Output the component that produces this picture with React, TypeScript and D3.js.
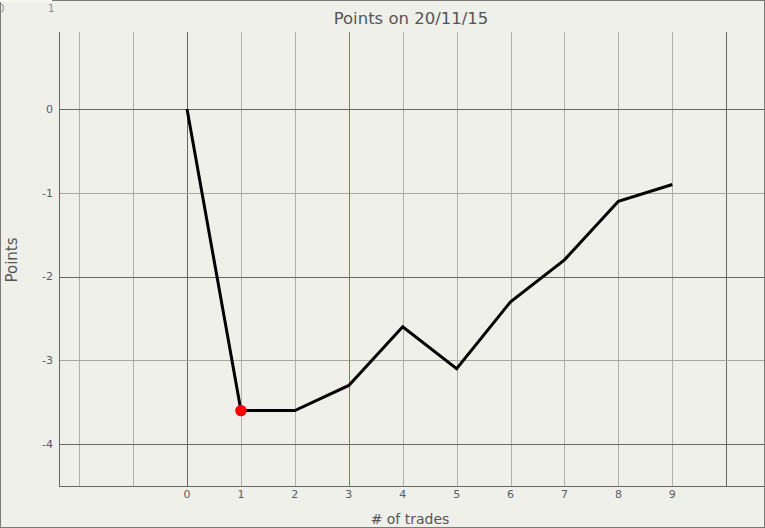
import * as d3 from 'd3';

const trades = [0, 1, 2, 3, 4, 5, 6, 7, 8, 9];
const points = [0, -3.6, -3.6, -3.3, -2.6, -3.1, -2.3, -1.8, -1.1, -0.9];
const xGrid = [-2, -1, 0, 1, 2, 3, 4, 5, 6, 7, 8, 9, 10];
const xMajor = [0, 10];
const xLabels = [0, 1, 2, 3, 4, 5, 6, 7, 8, 9];
const yTicks = [0, -1, -2, -3, -4];
const yMajor = [0, -2, -4];
const markerIndex = 1;
const markerLine = 3;

const W = 765;
const H = 528;
const margin = { top: 32, right: 1, bottom: 42, left: 59 };
const font = '"DejaVu Sans", Verdana, sans-serif';

export default function App() {
    const innerW = W - margin.left - margin.right;
    const innerH = H - margin.top - margin.bottom;

    const x = d3.scaleLinear().domain([-2.374, 10.7]).range([0, innerW]);
    const y = d3.scaleLinear().domain([-4.5, 0.92]).range([innerH, 0]);

    const line = d3
        .line<number>()
        .x((_, i) => x(trades[i]))
        .y((d) => y(d));

    const px = (v: number) => Math.round(v) + 0.5;

    return (
        <svg
            width={W}
            height={H}
            style={{ position: 'absolute', left: 0, top: 0, display: 'block' }}
            fontFamily={font}
        >
            <rect x={0} y={0} width={W} height={H} fill="#f0f0ea" />
            <rect x={0.5} y={0.5} width={W - 1} height={H - 1} fill="none" stroke="#7a7a7a" />
            <rect x={0} y={0} width={52} height={2} fill="#f7f7f3" />
            <text x={-2} y={12} fontSize={10} fill="#8a8aa0">0</text>
            <text x={48} y={12} fontSize={10} fill="#8a8aa0">1</text>

            <text x={411} y={24} textAnchor="middle" fontSize={16.5} fill="#555">
                Points on 20/11/15
            </text>

            <g transform={`translate(${margin.left},${margin.top})`} shapeRendering="crispEdges">
                {/* vertical grid */}
                {xGrid.filter((t) => t !== markerLine).map((t) => (
                    <line
                        key={`vx${t}`}
                        x1={px(x(t))}
                        x2={px(x(t))}
                        y1={0}
                        y2={innerH}
                        stroke={xMajor.includes(t) ? '#666' : '#b0b0aa'}
                    />
                ))}
                {/* horizontal grid */}
                {yTicks.map((t) => (
                    <line
                        key={`hy${t}`}
                        x1={0}
                        x2={innerW}
                        y1={px(y(t))}
                        y2={px(y(t))}
                        stroke={yMajor.includes(t) ? '#666' : '#a8a8a2'}
                    />
                ))}
                {/* marker line */}
                <line
                    x1={px(x(markerLine))}
                    x2={px(x(markerLine))}
                    y1={0}
                    y2={innerH}
                    stroke="#ff4060"
                />
                {/* axes */}
                <line x1={0.5} x2={0.5} y1={0} y2={innerH} stroke="#666" />
                <line x1={0} x2={innerW} y1={innerH + 0.5} y2={innerH + 0.5} stroke="#666" />
            </g>

            <g transform={`translate(${margin.left},${margin.top})`}>
                {yTicks.map((t) => (
                    <text
                        key={`yl${t}`}
                        x={-6}
                        y={y(t)}
                        dy="0.35em"
                        textAnchor="end"
                        fontSize={11}
                        fill="#5a5a6a"
                    >
                        {t}
                    </text>
                ))}
                {xLabels.map((t) => (
                    <text
                        key={`xl${t}`}
                        x={x(t)}
                        y={innerH + 12}
                        textAnchor="middle"
                        fontSize={11}
                        fill="#5a5a6a"
                    >
                        {t}
                    </text>
                ))}

                <path d={line(points) || ''} fill="none" stroke="#000" strokeWidth={3} strokeLinejoin="miter" />
                <circle cx={x(trades[markerIndex])} cy={y(points[markerIndex])} r={5.7} fill="#ff0000" />
            </g>

            <text x={410} y={524} textAnchor="middle" fontSize={14} fill="#555">
                # of trades
            </text>
            <text
                transform={`translate(17,${260}) rotate(-90)`}
                textAnchor="middle"
                fontSize={15}
                fill="#555"
            >
                Points
            </text>
        </svg>
    );
}
